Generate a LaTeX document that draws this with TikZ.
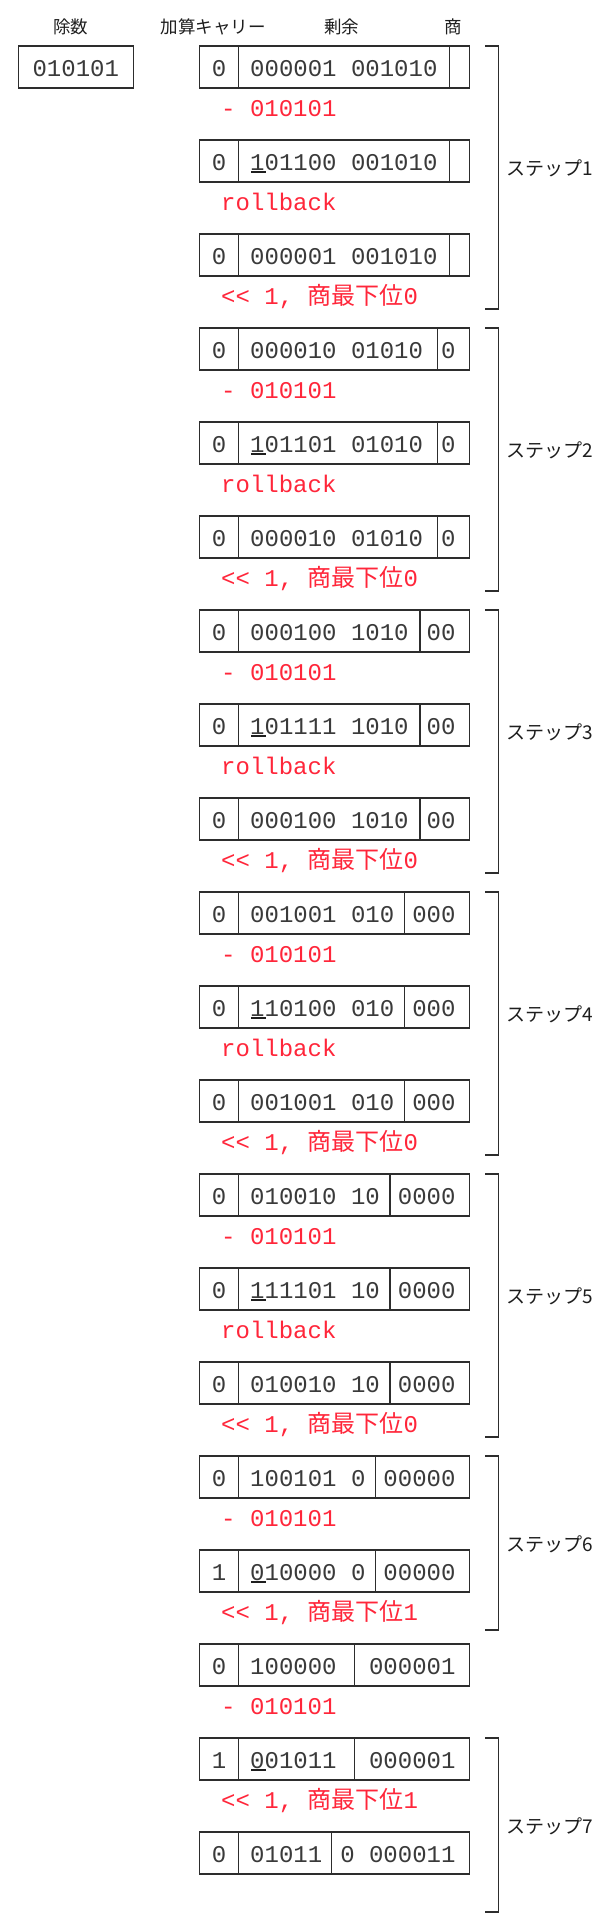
\documentclass[tikz,border=0pt]{standalone}
\usepackage{fontspec}
\newfontfamily\mono{Liberation Mono}
\newfontfamily\cjk{Noto Sans CJK JP}
\definecolor{ink}{RGB}{58,58,58}
\definecolor{headink}{RGB}{30,30,30}
\definecolor{linec}{RGB}{45,45,45}
\definecolor{redtxt}{RGB}{255,38,58}
\newcommand\ulfirst[1]{\makebox[0pt][l]{\hspace{0.8pt}\textcolor{headink}{\rule[-2.5pt]{14.5pt}{2.2pt}}}#1}
\newcommand\bitrow[6]{%
  \node[box, minimum width=39.4pt] (#1c) at (199.3,#2) {};
  \pgfmathsetmacro\remw{#6-238.7}%
  \node[box, minimum width=\remw pt] (#1r) at (238.7,#2) {};
  \pgfmathsetmacro\quow{469.3-#6}%
  \node[box, minimum width=\quow pt] (#1q) at (#6,#2) {};
  \node[digits, anchor=base] (#1ct) at (219,#2+30.5) {#3};
  \node[digits, anchor=base west] (#1rt) at (250,#2+30.5) {#4};
  \node[digits, anchor=base east] (#1qt) at (455.7,#2+30.5) {#5};
}
\newcommand\subnote[2]{\node[note] (#1) at (221,#2) {- 010101};}
\newcommand\rbnote[2]{\node[note] (#1) at (221,#2) {rollback};}
\newcommand\shnote[3]{\node[note] (#1) at (221,#2) {<{}< 1, {\cjk 商最下位}#3};}
\newcommand\stepbrack[5]{%
  \coordinate (#1t) at (485,#2);
  \coordinate (#1b) at (485,#3);
  \draw[brack] (#1t) -- ++(13.3,0) |- (#1b);
  \node[steplabel] (#1l) at (506,#4) {ステップ#5};
}
\begin{document}
\begin{tikzpicture}[x=1pt,y=-1pt,
  box/.style={draw=linec, line width=1.2pt, anchor=north west, minimum height=42pt, inner sep=0pt, outer sep=0pt},
  digits/.style={font=\mono\fontsize{24}{28}\selectfont, text=ink, inner sep=0pt},
  note/.style={font=\mono\fontsize{24}{28}\selectfont\frenchspacing, text=redtxt, inner sep=0pt, anchor=base west},
  head/.style={font=\cjk\fontsize{17.5}{20}\selectfont, text=headink, inner sep=0pt, anchor=base},
  steplabel/.style={font=\cjk\fontsize{19}{22}\selectfont, text=headink, inner sep=0pt, anchor=base west},
  brack/.style={draw=linec, line width=1.4pt}]
\useasboundingbox[fill=white] (0,0) rectangle (610,1920);

% headers
\node[head] (hdiv) at (70.7,33) {除数};
\node[head] (hcarry) at (213,33) {加算キャリー};
\node[head] (hrem) at (341.7,33) {剰余};
\node[head] (hquo) at (452.8,33) {商};

% divisor
\node[box, minimum width=115pt] (divbox) at (18.3,46) {};
\node[digits, anchor=base] (divtxt) at (75.8,76.5) {010101};

% step 1
\bitrow{ra}{46}{0}{000001 001010}{}{449.7}
\subnote{na}{116}
\bitrow{rb}{140}{0}{\ulfirst{1}01100 001010}{}{449.7}
\rbnote{nb}{210}
\bitrow{rc}{234}{0}{000001 001010}{}{449.7}
\shnote{nc}{304}{0}
% step 2
\bitrow{rd}{328}{0}{000010 01010}{0}{437.3}
\subnote{nd}{398}
\bitrow{re}{422}{0}{\ulfirst{1}01101 01010}{0}{437.3}
\rbnote{ne}{492}
\bitrow{rf}{516}{0}{000010 01010}{0}{437.3}
\shnote{nf}{586}{0}
% step 3
\bitrow{rg}{610}{0}{000100 1010}{00}{420}
\subnote{ng}{680}
\bitrow{rh}{704}{0}{\ulfirst{1}01111 1010}{00}{420}
\rbnote{nh}{774}
\bitrow{ri}{798}{0}{000100 1010}{00}{420}
\shnote{ni}{868}{0}
% step 4
\bitrow{rj}{892}{0}{001001 010}{000}{404.3}
\subnote{nj}{962}
\bitrow{rk}{986}{0}{\ulfirst{1}10100 010}{000}{404.3}
\rbnote{nk}{1056}
\bitrow{rl}{1080}{0}{001001 010}{000}{404.3}
\shnote{nl}{1150}{0}
% step 5
\bitrow{rm}{1174}{0}{010010 10}{0000}{390}
\subnote{nm}{1244}
\bitrow{rn}{1268}{0}{\ulfirst{1}11101 10}{0000}{390}
\rbnote{nn}{1338}
\bitrow{ro}{1362}{0}{010010 10}{0000}{390}
\shnote{no}{1432}{0}
% step 6
\bitrow{rp}{1456}{0}{100101 0}{00000}{375.7}
\subnote{np}{1526}
\bitrow{rq}{1550}{1}{\ulfirst{0}10000 0}{00000}{375.7}
\shnote{nq}{1620}{1}
% final
\bitrow{rr}{1644}{0}{100000}{000001}{354.7}
\subnote{nr}{1714}
\bitrow{rs}{1738}{1}{\ulfirst{0}01011}{000001}{354.7}
\shnote{ns}{1808}{1}
\bitrow{rt}{1832}{0}{01011}{0 000011}{331.3}

% brackets
\stepbrack{sa}{46}{309}{175.5}{1}
\stepbrack{sb}{328}{591}{457.5}{2}
\stepbrack{sc}{610}{873}{739.5}{3}
\stepbrack{sd}{892}{1155}{1021.5}{4}
\stepbrack{se}{1174}{1437}{1303.5}{5}
\stepbrack{sf}{1456}{1630}{1551.7}{6}
\stepbrack{sg}{1738}{1912}{1833}{7}
\end{tikzpicture}
\end{document}
